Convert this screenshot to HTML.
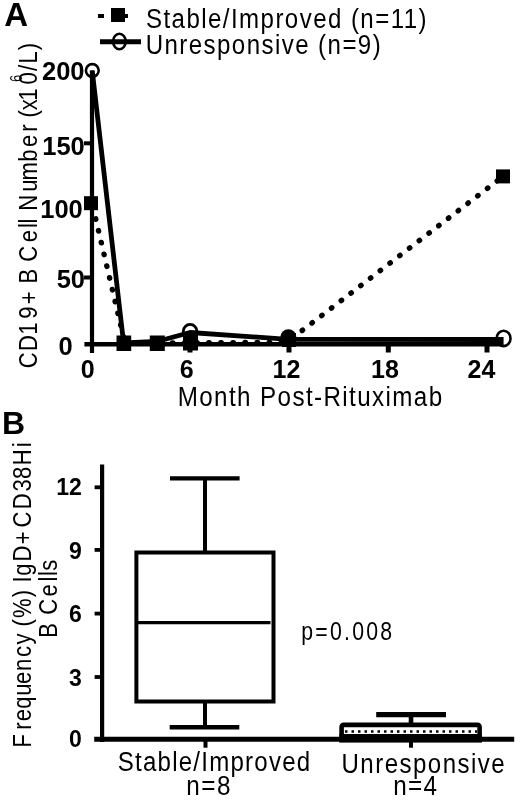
<!DOCTYPE html>
<html><head><meta charset="utf-8"><title>Figure</title>
<style>
html,body{margin:0;padding:0;background:#fff;}
body{width:520px;height:804px;overflow:hidden;}
svg{display:block;}
text{font-family:"Liberation Sans",Arial,sans-serif;fill:#000;}
.b{font-weight:bold;}
</style></head><body>
<svg width="520" height="804" viewBox="0 0 520 804">
<rect width="520" height="804" fill="#fff"/>
<!-- ===== Panel A ===== -->
<text class="b" x="4.2" y="26.3" font-size="33">A</text>
<!-- legend -->
<line x1="98" y1="16" x2="128" y2="16" stroke="#000" stroke-width="4" stroke-dasharray="6 7"/>
<rect x="111" y="8" width="14" height="14" fill="#000"/>
<text transform="translate(146.00 27.70) scale(0.86 1)" font-size="28" textLength="326.23" lengthAdjust="spacing">Stable/Improved (n=11)</text>
<line x1="100" y1="41.8" x2="141" y2="41.8" stroke="#000" stroke-width="5"/>
<ellipse cx="119.4" cy="41.5" rx="6.3" ry="7.8" fill="none" stroke="#000" stroke-width="2.6"/>
<text transform="translate(145.70 54.30) scale(0.86 1)" font-size="28" textLength="273.27" lengthAdjust="spacing">Unresponsive (n=9)</text>
<!-- y label -->
<text transform="translate(36.7 0) rotate(-90) scale(0.85 1)" x="-433.20 -412.89 -393.70 -375.05 -358.00 -342.81 -333.40 -316.06 -307.85 -285.09 -268.19 -262.84 -257.06 -247.98 -225.62 -212.36 -190.29 -173.03 -154.98 -146.32 -138.12 -129.80 -118.64 -99.35 -83.55 -74.75 -59.19" y="0" font-size="26">CD19+ B Cell Number (x10/L)</text>
<text transform="translate(22.3 81.9) rotate(-90) scale(0.76 1)" font-size="17">6</text>
<!-- y tick labels -->
<g class="b" font-size="25.5" text-anchor="end">
<text x="84.5" y="79.6">200</text>
<text x="84.8" y="154.9">150</text>
<text x="82.8" y="218.1">100</text>
<text x="85" y="288.3">50</text>
<text x="72.6" y="355.3">0</text>
</g>
<!-- x tick labels -->
<g class="b" font-size="25" text-anchor="middle">
<text x="87.8" y="377.7">0</text>
<text x="186.6" y="377.7">6</text>
<text x="286.5" y="377.7">12</text>
<text x="385" y="377.7">18</text>
<text x="481.5" y="377.7">24</text>
</g>
<text transform="translate(177.70 406.20) scale(0.88 1)" font-size="27.5" textLength="300.53" lengthAdjust="spacing">Month Post-Rituximab</text>
<!-- axes -->
<g stroke="#000" fill="none">
<line x1="92" y1="70.5" x2="92" y2="353" stroke-width="4.2"/>
<line x1="84.4" y1="344.2" x2="503.6" y2="344.2" stroke-width="4.6"/>
<g stroke-width="4">

<line x1="84" y1="143.3" x2="92" y2="143.3"/>
<line x1="84" y1="206" x2="92" y2="206"/>
<line x1="84" y1="277.5" x2="92" y2="277.5"/>
</g>
<g stroke-width="5">
<line x1="190" y1="344" x2="190" y2="352.5"/>
<line x1="289" y1="344" x2="289" y2="352.5"/>
<line x1="388.3" y1="344" x2="388.3" y2="352.5"/>
<line x1="487" y1="344" x2="487" y2="352.5"/>
</g>
</g>
<!-- data: stable (dotted) -->
<g fill="none" stroke="#000" stroke-width="5.4" stroke-linecap="round">
<line x1="92" y1="203" x2="125" y2="343.5" stroke-dasharray="0.5 11.6" stroke-dashoffset="7.95"/>
<polyline points="124,343.5 157.3,343 190,342.8 288.5,342.3" stroke-dasharray="0.5 11.6"/>
<line x1="288.5" y1="341" x2="502.8" y2="176.5" stroke-dasharray="0.5 11.79" stroke-dashoffset="7.34"/>
</g>
<!-- data: unresponsive (solid) -->
<polyline points="92.2,70.5 123.6,343 157,341.5 190,332.5 288.5,339.3 503.6,339.5" fill="none" stroke="#000" stroke-width="4.8" stroke-linejoin="round"/>
<!-- markers: squares -->
<g fill="#000">
<rect x="84" y="196.2" width="14" height="14"/>
<rect x="116.5" y="335.5" width="14.7" height="15.5"/>
<rect x="149.8" y="335.5" width="15" height="15.5"/>
<rect x="183" y="335" width="15" height="15.5"/>
<rect x="282" y="333" width="14" height="14"/>
<rect x="496" y="169.4" width="14" height="14"/>
</g>
<!-- markers: circles -->
<g fill="none" stroke="#000" stroke-width="2.8">
<circle cx="92.3" cy="70.5" r="6.4" stroke-width="2.6"/>
<circle cx="190.1" cy="331.2" r="6.8"/>
<circle cx="288.4" cy="337.2" r="8" fill="#000" stroke="none"/>
<ellipse cx="503.6" cy="338.4" rx="6.9" ry="7.7" stroke-width="2.6"/>
</g>

<!-- ===== Panel B ===== -->
<text class="b" x="2" y="434" font-size="32">B</text>
<text transform="translate(30.8 0) rotate(-90) scale(0.85 1)" x="-879.31 -858.56 -848.62 -833.89 -818.56 -804.85 -789.54 -773.06 -758.27 -745.27 -737.00 -727.09 -702.66 -694.00 -685.44 -677.47 -660.71 -640.23 -620.73 -599.07 -578.33 -563.52 -547.22 -526.23" y="0" font-size="26">Frequency (%) IgD+CD38Hi</text>
<text transform="translate(56.8 0) rotate(-90) scale(0.85 1)" x="-750.23 -732.89 -723.32 -701.85 -684.25 -677.54 -671.51" y="0" font-size="26">B Cells</text>
<g class="b" font-size="23" text-anchor="end">
<text x="81.8" y="494.6">12</text>
<text x="81.8" y="559.3">9</text>
<text x="81.8" y="622.3">6</text>
<text x="81.8" y="685.5">3</text>
<text x="81.8" y="746.8">0</text>
</g>
<g stroke="#000" fill="none">
<line x1="102.1" y1="464.6" x2="102.1" y2="742" stroke-width="4.2"/>
<line x1="94.2" y1="739.2" x2="514.2" y2="739.2" stroke-width="5"/>
<g stroke-width="3.8">
<line x1="94.6" y1="487.3" x2="102" y2="487.3"/>
<line x1="94.6" y1="549.9" x2="102" y2="549.9"/>
<line x1="94.6" y1="613.6" x2="102" y2="613.6"/>
<line x1="94.6" y1="677" x2="102" y2="677"/>
</g>
<g stroke-width="4">
<line x1="205.5" y1="739" x2="205.5" y2="747.7"/>
<line x1="411" y1="739" x2="411" y2="747.7"/>
</g>
<!-- box 1 -->
<g stroke-width="4">
<rect x="136.4" y="552.5" width="137.1" height="149"/>
<line x1="136.4" y1="622.6" x2="270.5" y2="622.6" stroke-width="3.3"/>
<line x1="205" y1="478.4" x2="205" y2="552.5"/>
<line x1="170" y1="478.4" x2="239.6" y2="478.4" stroke-width="4.4"/>
<line x1="205" y1="701.5" x2="205" y2="727.2"/>
<line x1="169.7" y1="727.2" x2="239.3" y2="727.2" stroke-width="4.6"/>
</g>
<!-- box 2 -->
<g stroke-width="4.6">
<rect x="341.6" y="724.9" width="138" height="12" rx="2"/>
<line x1="411" y1="714.7" x2="411" y2="724.9"/>
<line x1="376.2" y1="714.65" x2="446" y2="714.65" stroke-width="5.3"/>
</g>
<line x1="345" y1="731.5" x2="477" y2="731.5" stroke-width="2.5" stroke-dasharray="2.5 4"/>
<rect x="339.3" y="734" width="142.6" height="8.6" fill="#000" stroke="none"/>
</g>
<text transform="translate(301.20 639.60) scale(0.85 1)" font-size="25" textLength="106.94" lengthAdjust="spacing">p=0.008</text>
<text transform="translate(117.70 770.60) scale(0.86 1)" font-size="28" textLength="223.88" lengthAdjust="spacing">Stable/Improved</text>
<text transform="translate(186.20 795.30) scale(0.9 1)" font-size="27" textLength="49.22" lengthAdjust="spacing">n=8</text>
<text transform="translate(341.50 772.50) scale(0.86 1)" font-size="28" textLength="189.85" lengthAdjust="spacing">Unresponsive</text>
<text transform="translate(393.20 795.30) scale(0.9 1)" font-size="27" textLength="48.67" lengthAdjust="spacing">n=4</text>
</svg>
</body></html>
